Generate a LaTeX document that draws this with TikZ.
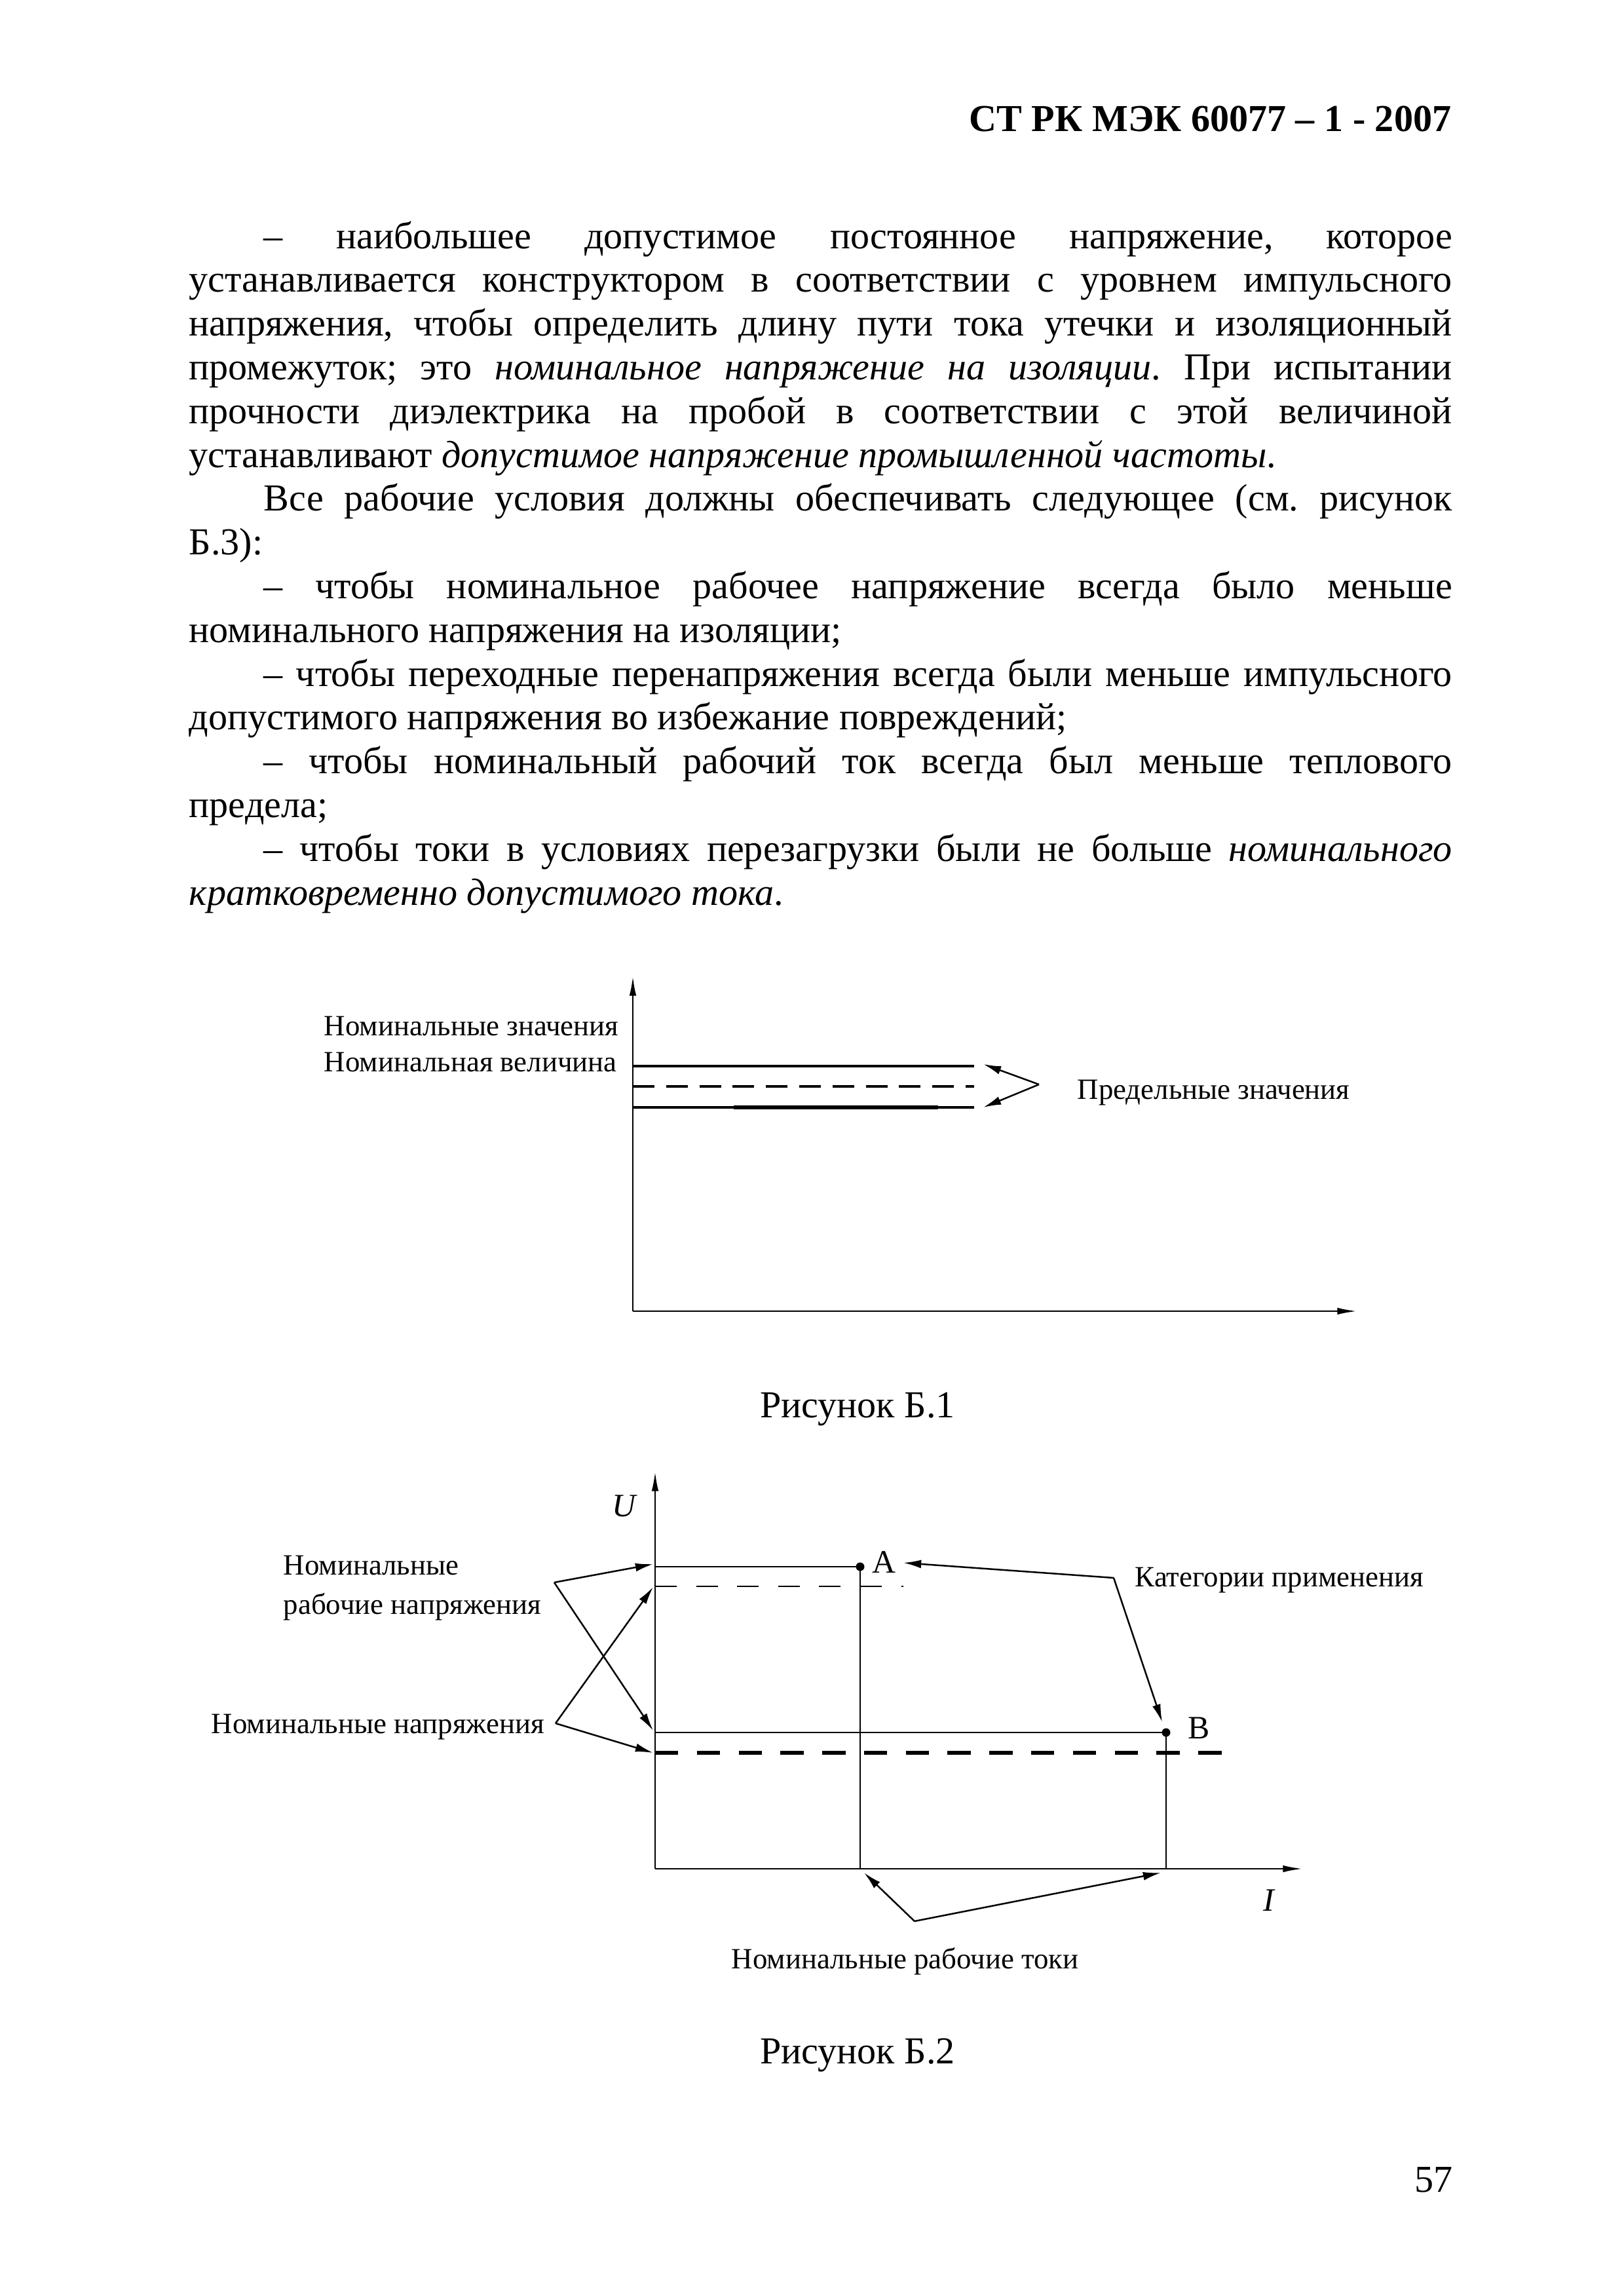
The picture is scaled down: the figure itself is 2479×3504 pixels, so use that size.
\documentclass[tikz,border=0pt]{standalone}
\usepackage{fontspec}
\setmainfont{Liberation Serif}
\usetikzlibrary{arrows.meta}
\newcommand\JL[1]{\makebox[163.24mm][s]{#1}}
\newcommand\IND{\hspace*{9.65mm}}
\frenchspacing
\begin{document}
\frenchspacing
\begin{tikzpicture}[x=0.0846667mm,y=-0.0846667mm,
  bodyline/.style={anchor=base west,inner sep=0,font=\fontsize{14pt}{16pt}\selectfont\frenchspacing},
  caption/.style={anchor=base,inner sep=0,font=\fontsize{14pt}{16pt}\selectfont},
  lbl/.style={anchor=base west,inner sep=0,font=\fontsize{10.8pt}{13pt}\selectfont},
  axis/.style={line width=0.7pt,-{Latex[length=2.6mm,width=0.9mm]}},
  fline/.style={line width=0.8pt},
  tline/.style={line width=0.6pt},
  dash1/.style={line width=0.8pt,dash pattern=on 2.8mm off 1.5mm},
  dash2/.style={line width=0.6pt,dash pattern=on 2.8mm off 2.5mm},
  dash3/.style={line width=1.5pt,dash pattern=on 3mm off 2.4mm},
  ptr/.style={line width=0.6pt,-{Latex[length=2.3mm,width=1.1mm]}},
  dot/.style={circle,fill=black,inner sep=0,minimum size=1.1mm}]
\useasboundingbox (0,0) rectangle (2479,3504);
\fill[white] (0,0) rectangle (2479,3504);

% header
\node[anchor=base east,inner sep=0,font=\fontsize{14pt}{16pt}\selectfont\bfseries] (hdr) at (2216,200) {СТ РК МЭК 60077 – 1 - 2007};

% body text
\node[bodyline] (l1) at (288,379) {\JL{\IND– наибольшее допустимое постоянное напряжение, которое}};
\node[bodyline] (l2) at (288,445.8) {\JL{устанавливается конструктором в соответствии с уровнем импульсного}};
\node[bodyline] (l3) at (288,512.6) {\JL{напряжения, чтобы определить длину пути тока утечки и изоляционный}};
\node[bodyline] (l4) at (288,579.4) {\JL{промежуток; это \textit{номинальное напряжение на изоляции}. При испытании}};
\node[bodyline] (l5) at (288,646.2) {\JL{прочности диэлектрика на пробой в соответствии с этой величиной}};
\node[bodyline] (l6) at (288,713) {устанавливают \textit{допустимое напряжение промышленной частоты}.};
\node[bodyline] (l7) at (288,779.8) {\JL{\IND Все рабочие условия должны обеспечивать следующее (см. рисунок}};
\node[bodyline] (l8) at (288,846.6) {Б.3):};
\node[bodyline] (l9) at (288,913.4) {\JL{\IND– чтобы номинальное рабочее напряжение всегда было меньше}};
\node[bodyline] (l10) at (288,980.2) {номинального напряжения на изоляции;};
\node[bodyline] (l11) at (288,1047) {\JL{\IND– чтобы переходные перенапряжения всегда были меньше импульсного}};
\node[bodyline] (l12) at (288,1113.8) {допустимого напряжения во избежание повреждений;};
\node[bodyline] (l13) at (288,1180.6) {\JL{\IND– чтобы номинальный рабочий ток всегда был меньше теплового}};
\node[bodyline] (l14) at (288,1247.4) {предела;};
\node[bodyline] (l15) at (288,1314.2) {\JL{\IND– чтобы токи в условиях перезагрузки были не больше \textit{номинального}}};
\node[bodyline] (l16) at (288,1381) {\textit{кратковременно допустимого тока}.};

% ---------- Figure B.1 ----------
\coordinate (o1) at (966,2001);
\coordinate (y1) at (966,1489);
\coordinate (x1) at (2072,2001);
\draw[axis] (o1) -- (y1);
\draw[axis] (o1) -- (x1);
\coordinate (s1a) at (966,1627); \coordinate (s1b) at (1487,1627);
\coordinate (d1a) at (966,1658); \coordinate (d1b) at (1487,1658);
\coordinate (s2a) at (966,1690); \coordinate (s2b) at (1487,1690);
\draw[fline] (s1a) -- (s1b);
\draw[dash1] (d1a) -- (d1b);
\draw[fline] (s2a) -- (s2b);
\coordinate (t1a) at (1120,1690); \coordinate (t1b) at (1432,1690);
\draw[line width=1.6pt] (t1a) -- (t1b);
\coordinate (apx1) at (1586,1655);
\coordinate (tip1) at (1501,1624);
\coordinate (tip2) at (1501,1690);
\draw[ptr] (apx1) -- (tip1);
\draw[ptr] (apx1) -- (tip2);
\node[lbl] (nz) at (494,1580) {Номинальные значения};
\node[lbl] (nv) at (494,1635) {Номинальная величина};
\node[lbl] (pz) at (1644,1677) {Предельные значения};
\node[caption] (cap1) at (1309,2163) {Рисунок Б.1};

% ---------- Figure B.2 ----------
\coordinate (o2) at (1000,2852);
\coordinate (y2) at (1000,2245);
\coordinate (x2) at (1989,2852);
\draw[axis] (o2) -- (y2);
\draw[axis] (o2) -- (x2);
\node[inner sep=0,font=\fontsize{12pt}{14pt}\selectfont\itshape] (U) at (952,2298) {U};
\node[inner sep=0,font=\fontsize{12pt}{14pt}\selectfont\itshape] (I) at (1937,2900) {I};
\node[dot] (A) at (1313,2391) {};
\node[dot] (B) at (1780,2644) {};
\coordinate (a0) at (1000,2391);
\coordinate (b0) at (1000,2644);
\coordinate (ad0) at (1000,2421); \coordinate (ad1) at (1379,2421);
\coordinate (bd0) at (1000,2675); \coordinate (bd1) at (1873,2675);
\coordinate (ax) at (1313,2852);
\coordinate (bx) at (1780,2852);
\draw[tline] (a0) -- (A.center) -- (ax);
\draw[tline] (b0) -- (B.center) -- (bx);
\draw[dash2] (ad0) -- (ad1);
\draw[dash3] (bd0) -- (bd1);
\node[lbl,font=\fontsize{12pt}{14pt}\selectfont] (Al) at (1331,2400) {A};
\node[lbl,font=\fontsize{12pt}{14pt}\selectfont] (Bl) at (1813,2653) {B};

\node[lbl] (nr1) at (432,2403) {Номинальные};
\node[lbl] (nr2) at (432,2463) {рабочие напряжения};
\node[lbl] (nn) at (322,2645) {Номинальные напряжения};
\node[lbl] (kp) at (1732,2421) {Категории применения};
\node[lbl] (nt) at (1116,3004) {Номинальные рабочие токи};

\coordinate (P1) at (846,2415);
\coordinate (P2) at (848,2630);
\coordinate (P1a) at (997,2387);
\coordinate (P1b) at (997,2641);
\coordinate (P2a) at (997,2422);
\coordinate (P2b) at (997,2675);
\draw[ptr] (P1) -- (P1a);
\draw[ptr] (P1) -- (P1b);
\draw[ptr] (P2) -- (P2a);
\draw[ptr] (P2) -- (P2b);

\coordinate (Q) at (1700,2408);
\coordinate (Qa) at (1379,2385);
\coordinate (Qb) at (1774,2628);
\draw[ptr] (Q) -- (Qa);
\draw[ptr] (Q) -- (Qb);

\coordinate (R) at (1396,2932);
\coordinate (Ra) at (1319,2858);
\coordinate (Rb) at (1772,2858);
\draw[ptr] (R) -- (Ra);
\draw[ptr] (R) -- (Rb);
\node[caption] (cap2) at (1309,3149) {Рисунок Б.2};

\node[anchor=base east,inner sep=0,font=\fontsize{14pt}{16pt}\selectfont] (pg) at (2218,3345) {57};
\end{tikzpicture}
\end{document}
